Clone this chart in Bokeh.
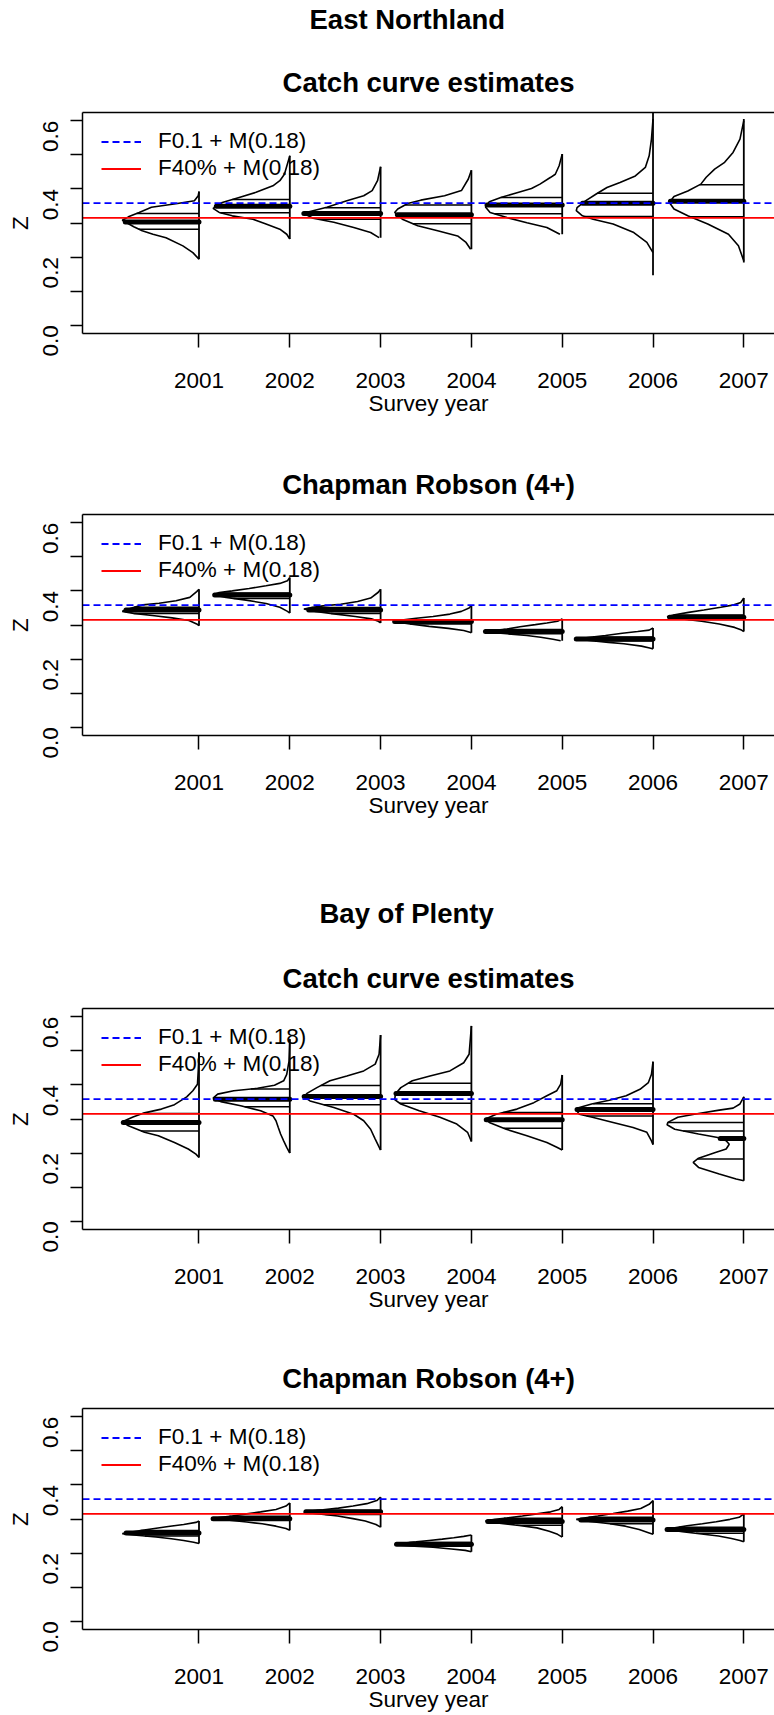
import math
import numpy as np
from bokeh.plotting import figure
from bokeh.layouts import column
from bokeh.models import FixedTicker, LinearAxis, Range1d, Title, Legend, LegendItem
from bokeh.embed import file_html
from bokeh.resources import INLINE

# ---------------------------------------------------------------- data
YEARS = [2001, 2002, 2003, 2004, 2005, 2006, 2007]
Y_TICKS = [0.0, 0.1, 0.2, 0.3, 0.4, 0.5, 0.6]
Y_TICK_LABELS = ["0.0", "", "0.2", "", "0.4", "", "0.6"]

F01_PLUS_M = 0.358   # F0.1 + M(0.18)
F40_PLUS_M = 0.315   # F40% + M(0.18)
LEGEND_LABELS = ["F0.1 + M(0.18)", "F40% + M(0.18)"]

REGIONS = ["East Northland", "Bay of Plenty"]
METHODS = ["Catch curve estimates", "Chapman Robson (4+)"]

# Posterior density outlines per survey year: Z levels and relative width (1 = widest)
EN_CC_Z = [
    [0.392, 0.380, 0.365, 0.357, 0.346, 0.331, 0.318, 0.308, 0.289, 0.277, 0.267, 0.257, 0.233, 0.213, 0.194],
    [0.497, 0.443, 0.424, 0.409, 0.390, 0.375, 0.360, 0.343, 0.331, 0.321, 0.311, 0.297, 0.282, 0.267, 0.253],
    [0.465, 0.424, 0.395, 0.380, 0.365, 0.346, 0.334, 0.328, 0.314, 0.302, 0.287, 0.272, 0.257],
    [0.455, 0.429, 0.395, 0.380, 0.367, 0.357, 0.341, 0.331, 0.311, 0.292, 0.277, 0.262, 0.243, 0.223],
    [0.502, 0.468, 0.443, 0.434, 0.414, 0.401, 0.388, 0.375, 0.362, 0.347, 0.331, 0.316, 0.301, 0.287, 0.267],
    [0.605, 0.546, 0.497, 0.463, 0.438, 0.419, 0.404, 0.385, 0.365, 0.345, 0.336, 0.321, 0.311, 0.297, 0.272, 0.243, 0.213],
    [0.600, 0.546, 0.507, 0.478, 0.458, 0.434, 0.414, 0.394, 0.378, 0.360, 0.341, 0.321, 0.297, 0.267, 0.233, 0.189],
]
EN_CC_W = [
    [0.00, 0.01, 0.06, 0.28, 0.62, 0.78, 0.92, 1.00, 0.85, 0.74, 0.60, 0.43, 0.21, 0.08, 0.00],
    [0.00, 0.07, 0.13, 0.22, 0.44, 0.66, 0.88, 1.00, 0.92, 0.75, 0.48, 0.31, 0.13, 0.04, 0.00],
    [0.00, 0.04, 0.11, 0.22, 0.44, 0.70, 0.92, 1.00, 0.88, 0.61, 0.35, 0.13, 0.02],
    [0.00, 0.04, 0.13, 0.35, 0.66, 0.83, 0.96, 1.00, 0.90, 0.70, 0.44, 0.18, 0.07, 0.01],
    [0.00, 0.04, 0.09, 0.15, 0.29, 0.40, 0.60, 0.80, 0.95, 1.00, 0.94, 0.72, 0.46, 0.20, 0.03],
    [0.00, 0.02, 0.05, 0.10, 0.23, 0.43, 0.60, 0.74, 0.88, 0.99, 1.00, 0.92, 0.78, 0.52, 0.25, 0.08, 0.00],
    [0.00, 0.05, 0.14, 0.25, 0.38, 0.49, 0.56, 0.73, 0.91, 0.97, 0.91, 0.73, 0.47, 0.20, 0.07, 0.00],
]
EN_CC_MEDIAN = [0.303, 0.349, 0.328, 0.324, 0.353, 0.358, 0.364]
EN_CC_QUARTILES = [[0.328, 0.282], [0.369, 0.330], [0.345, 0.311], [0.353, 0.298],
                   [0.375, 0.327], [0.387, 0.319], [0.412, 0.318]]
EN_CC_STEM_LO = [0.194, 0.253, 0.257, 0.223, 0.267, 0.147, 0.184]
EN_CC_STEM_HI = [0.392, 0.497, 0.465, 0.455, 0.502, 0.630, 0.605]

EN_CR_Z = [
    [0.405, 0.398, 0.381, 0.371, 0.364, 0.359, 0.350, 0.340, 0.334, 0.327, 0.321, 0.313, 0.303, 0.298],
    [0.439, 0.430, 0.422, 0.415, 0.407, 0.400, 0.395, 0.389, 0.381, 0.373, 0.363, 0.352, 0.340, 0.335],
    [0.405, 0.396, 0.379, 0.369, 0.361, 0.356, 0.351, 0.347, 0.340, 0.332, 0.325, 0.318, 0.311, 0.306],
    [0.357, 0.350, 0.340, 0.332, 0.325, 0.320, 0.315, 0.310, 0.303, 0.296, 0.290, 0.284, 0.279, 0.277],
    [0.318, 0.311, 0.306, 0.301, 0.295, 0.288, 0.284, 0.281, 0.276, 0.269, 0.264, 0.258, 0.254],
    [0.291, 0.285, 0.281, 0.276, 0.269, 0.264, 0.259, 0.254, 0.249, 0.245, 0.238, 0.232, 0.230],
    [0.379, 0.366, 0.359, 0.352, 0.344, 0.337, 0.330, 0.324, 0.318, 0.311, 0.303, 0.293, 0.285, 0.281],
]
EN_CR_W = [
    [0.00, 0.03, 0.12, 0.30, 0.52, 0.73, 0.88, 1.00, 0.85, 0.58, 0.35, 0.13, 0.03, 0.00],
    [0.00, 0.03, 0.13, 0.31, 0.53, 0.75, 0.92, 1.00, 0.83, 0.57, 0.31, 0.13, 0.03, 0.00],
    [0.00, 0.03, 0.13, 0.30, 0.52, 0.75, 0.90, 1.00, 0.85, 0.58, 0.33, 0.12, 0.03, 0.00],
    [0.00, 0.03, 0.13, 0.28, 0.50, 0.72, 0.88, 1.00, 0.80, 0.55, 0.30, 0.10, 0.02, 0.00],
    [0.00, 0.06, 0.20, 0.35, 0.55, 0.72, 0.90, 1.00, 0.80, 0.46, 0.28, 0.12, 0.02],
    [0.00, 0.05, 0.20, 0.40, 0.62, 0.82, 1.00, 0.80, 0.58, 0.38, 0.15, 0.03, 0.00],
    [0.00, 0.04, 0.13, 0.30, 0.52, 0.72, 0.90, 1.00, 0.80, 0.55, 0.32, 0.12, 0.03, 0.00],
]
EN_CR_MEDIAN = [0.344, 0.388, 0.344, 0.310, 0.281, 0.259, 0.323]
EN_CR_QUARTILES = [[0.352, 0.334], [0.394, 0.378], [0.351, 0.334], [0.315, 0.303],
                   [0.287, 0.274], [0.265, 0.253], [0.329, 0.316]]

BP_CC_Z = [
    [0.495, 0.441, 0.402, 0.383, 0.365, 0.342, 0.329, 0.318, 0.306, 0.292, 0.280, 0.261, 0.251, 0.231, 0.212, 0.197, 0.187],
    [0.534, 0.470, 0.431, 0.412, 0.399, 0.390, 0.383, 0.373, 0.361, 0.351, 0.339, 0.324, 0.309, 0.295, 0.275, 0.256, 0.236, 0.217, 0.200],
    [0.546, 0.490, 0.461, 0.441, 0.426, 0.412, 0.392, 0.375, 0.365, 0.353, 0.334, 0.314, 0.295, 0.270, 0.241, 0.209],
    [0.573, 0.490, 0.465, 0.441, 0.426, 0.412, 0.392, 0.373, 0.357, 0.344, 0.324, 0.305, 0.285, 0.261, 0.234],
    [0.429, 0.402, 0.383, 0.368, 0.348, 0.329, 0.314, 0.300, 0.290, 0.270, 0.251, 0.231, 0.217, 0.209],
    [0.468, 0.431, 0.407, 0.387, 0.368, 0.355, 0.344, 0.334, 0.326, 0.314, 0.305, 0.290, 0.275, 0.261, 0.236, 0.225],
    [0.365, 0.344, 0.332, 0.326, 0.316, 0.305, 0.290, 0.283, 0.270, 0.256, 0.246, 0.236, 0.226, 0.212, 0.202, 0.185, 0.173, 0.158, 0.139, 0.124, 0.119],
]
BP_CC_W = [
    [0.00, 0.01, 0.02, 0.08, 0.16, 0.32, 0.49, 0.71, 0.86, 1.00, 0.92, 0.71, 0.53, 0.32, 0.14, 0.04, 0.00],
    [0.00, 0.01, 0.04, 0.08, 0.20, 0.42, 0.73, 0.94, 1.00, 0.90, 0.64, 0.38, 0.22, 0.18, 0.15, 0.12, 0.08, 0.04, 0.00],
    [0.00, 0.02, 0.07, 0.22, 0.44, 0.66, 0.83, 0.96, 1.00, 0.92, 0.61, 0.35, 0.22, 0.13, 0.07, 0.00],
    [0.00, 0.03, 0.10, 0.28, 0.54, 0.77, 0.92, 0.99, 1.00, 0.92, 0.68, 0.41, 0.19, 0.05, 0.00],
    [0.00, 0.02, 0.07, 0.20, 0.37, 0.59, 0.86, 1.00, 0.95, 0.73, 0.46, 0.20, 0.07, 0.00],
    [0.00, 0.02, 0.06, 0.17, 0.35, 0.57, 0.80, 0.96, 1.00, 0.96, 0.79, 0.52, 0.26, 0.08, 0.02, 0.00],
    [0.00, 0.05, 0.14, 0.32, 0.59, 0.86, 0.99, 1.00, 0.90, 0.59, 0.34, 0.23, 0.19, 0.23, 0.37, 0.59, 0.66, 0.59, 0.32, 0.10, 0.00],
]
BP_CC_MEDIAN = [0.290, 0.358, 0.366, 0.375, 0.298, 0.328, 0.243]
BP_CC_QUARTILES = [[0.316, 0.265], [0.388, 0.336], [0.398, 0.342], [0.405, 0.346],
                   [0.319, 0.273], [0.345, 0.309], [0.290, 0.265, 0.183]]

BP_CR_Z = [
    [0.294, 0.290, 0.284, 0.278, 0.272, 0.266, 0.261, 0.257, 0.253, 0.247, 0.242, 0.237, 0.232, 0.228],
    [0.347, 0.338, 0.328, 0.321, 0.315, 0.309, 0.305, 0.301, 0.297, 0.291, 0.286, 0.279, 0.272, 0.267],
    [0.364, 0.354, 0.345, 0.338, 0.332, 0.327, 0.323, 0.320, 0.315, 0.309, 0.301, 0.294, 0.284, 0.276],
    [0.253, 0.249, 0.245, 0.241, 0.237, 0.233, 0.229, 0.225, 0.221, 0.217, 0.212, 0.208, 0.204],
    [0.336, 0.328, 0.321, 0.315, 0.309, 0.303, 0.299, 0.294, 0.288, 0.281, 0.274, 0.264, 0.255, 0.247],
    [0.354, 0.343, 0.331, 0.323, 0.316, 0.309, 0.303, 0.299, 0.293, 0.286, 0.279, 0.269, 0.259, 0.255],
    [0.315, 0.305, 0.299, 0.292, 0.286, 0.280, 0.274, 0.269, 0.263, 0.256, 0.250, 0.243, 0.237, 0.233],
]
BP_CR_W = [
    [0.00, 0.04, 0.20, 0.40, 0.58, 0.76, 0.90, 1.00, 0.85, 0.56, 0.36, 0.20, 0.07, 0.00],
    [0.00, 0.05, 0.18, 0.38, 0.56, 0.75, 0.90, 1.00, 0.82, 0.56, 0.36, 0.18, 0.05, 0.00],
    [0.00, 0.05, 0.18, 0.36, 0.55, 0.75, 0.92, 1.00, 0.80, 0.56, 0.36, 0.20, 0.06, 0.00],
    [0.00, 0.10, 0.23, 0.38, 0.55, 0.72, 0.90, 1.00, 0.80, 0.50, 0.26, 0.08, 0.00],
    [0.00, 0.04, 0.15, 0.33, 0.52, 0.72, 0.88, 1.00, 0.82, 0.56, 0.33, 0.17, 0.06, 0.00],
    [0.00, 0.05, 0.16, 0.33, 0.52, 0.72, 0.90, 1.00, 0.82, 0.56, 0.36, 0.18, 0.05, 0.00],
    [0.00, 0.06, 0.18, 0.36, 0.54, 0.74, 0.90, 1.00, 0.80, 0.55, 0.33, 0.16, 0.05, 0.00],
]
BP_CR_MEDIAN = [0.259, 0.301, 0.321, 0.226, 0.293, 0.297, 0.269]
BP_CR_QUARTILES = [[0.266, 0.250], [0.308, 0.296], [0.325, 0.313], [0.231, 0.220],
                   [0.302, 0.282], [0.305, 0.286], [0.276, 0.258]]

# ---------------------------------------------------------------- styling
FONT = "Liberation Sans"
BASE_PX = "22.5px"
TITLE_PX = "27.5px"
X_RANGE = (1999.717, 2007.338)
Y_RANGE = (-0.024, 0.624)
HALF_WIDTH = 0.845          # widest point of each density, in years
FRAME_LEFT = 82
PAGE_W = 774


def title_strip(text, height, offset):
    """A thin strip that only carries a region heading."""
    p = figure(width=PAGE_W, height=height, title=None,
               x_range=Range1d(*X_RANGE), y_range=Range1d(*Y_RANGE),
               x_axis_type=None, y_axis_type=None,
               min_border_left=FRAME_LEFT, min_border_right=0,
               min_border_top=height - 1, min_border_bottom=0,
               output_backend="svg", toolbar_location=None)
    p.outline_line_color = None
    p.border_fill_color = "white"
    p.add_layout(Title(text=text, align="left", offset=offset, text_font=FONT,
                       text_font_size=TITLE_PX, text_font_style="bold",
                       text_color="black", standoff=12), "above")
    return p


def density_panel(zs, ws, medians, quartiles, method, height, top, bottom,
                  stem_lo=None, stem_hi=None):
    p = figure(width=PAGE_W, height=height, title=None,
               x_range=Range1d(*X_RANGE), y_range=Range1d(*Y_RANGE),
               x_axis_type=None, y_axis_type=None,
               min_border_left=FRAME_LEFT, min_border_right=0,
               min_border_top=top, min_border_bottom=bottom,
               output_backend="svg", toolbar_location=None)
    p.outline_line_color = None
    p.background_fill_color = "white"
    p.border_fill_color = "white"

    curve_xs, curve_ys = [], []
    s_x, s_lo, s_hi = [], [], []
    q_x0, q_x1, q_y = [], [], []
    m_x0, m_x1, m_y = [], [], []
    for i, yr in enumerate(YEARS):
        z = np.asarray(zs[i], dtype=float)
        w = np.asarray(ws[i], dtype=float)
        curve_xs.append(list(yr - HALF_WIDTH * w))
        curve_ys.append(list(z))
        order = np.argsort(z)
        zs_sorted, ws_sorted = z[order], w[order]
        s_x.append(yr)
        s_lo.append(stem_lo[i] if stem_lo else float(z.min()))
        s_hi.append(stem_hi[i] if stem_hi else float(z.max()))
        for q in quartiles[i]:
            q_x0.append(yr - HALF_WIDTH * float(np.interp(q, zs_sorted, ws_sorted)))
            q_x1.append(yr)
            q_y.append(q)
        m = medians[i]
        m_x0.append(yr - HALF_WIDTH * float(np.interp(m, zs_sorted, ws_sorted)))
        m_x1.append(yr)
        m_y.append(m)

    p.multi_line(xs=curve_xs, ys=curve_ys, line_color="black", line_width=1.6)
    p.segment(x0=s_x, y0=s_lo, x1=s_x, y1=s_hi, line_color="black", line_width=1.8)
    p.segment(x0=q_x0, y0=q_y, x1=q_x1, y1=q_y, line_color="black", line_width=1.5)
    p.segment(x0=m_x0, y0=m_y, x1=m_x1, y1=m_y, line_color="black", line_width=5,
              line_cap="round")

    # reference mortality levels, across the whole panel
    ref_blue = p.line(x=list(X_RANGE), y=[F01_PLUS_M, F01_PLUS_M], line_color="blue",
                      line_dash="7 4", line_width=1.8)
    ref_red = p.line(x=list(X_RANGE), y=[F40_PLUS_M, F40_PLUS_M], line_color="red",
                     line_width=1.8)
    legend = Legend(items=[LegendItem(label=LEGEND_LABELS[0], renderers=[ref_blue]),
                           LegendItem(label=LEGEND_LABELS[1], renderers=[ref_red])],
                    location=(19, 151.5), orientation="vertical",
                    border_line_color=None, background_fill_alpha=0,
                    padding=0, spacing=0, margin=0,
                    glyph_width=40, glyph_height=27, label_height=27, label_standoff=17,
                    label_text_font=FONT, label_text_font_size=BASE_PX,
                    label_text_color="black", label_text_baseline="middle")
    p.add_layout(legend, "center")

    # axes
    xax = LinearAxis(ticker=FixedTicker(ticks=YEARS, minor_ticks=[]),
                     axis_label="Survey year")
    yax = LinearAxis(ticker=FixedTicker(ticks=Y_TICKS, minor_ticks=[]), axis_label="Z",
                     major_label_overrides={t: s for t, s in zip(Y_TICKS, Y_TICK_LABELS)},
                     major_label_orientation=math.pi / 2)
    for ax in (xax, yax):
        ax.axis_line_width = 1.5
        ax.major_tick_line_width = 1.5
        ax.major_tick_in = 0
        ax.minor_tick_line_color = None
        ax.major_label_text_font = FONT
        ax.major_label_text_font_size = BASE_PX
        ax.major_label_text_color = "black"
        ax.axis_label_text_font = FONT
        ax.axis_label_text_font_size = BASE_PX
        ax.axis_label_text_font_style = "normal"
        ax.axis_label_text_color = "black"
    xax.major_tick_out = 14
    xax.major_label_standoff = 25
    xax.axis_label_standoff = 0
    yax.major_tick_out = 12
    yax.major_label_standoff = 20
    yax.axis_label_standoff = 0
    p.add_layout(xax, "below")
    p.add_layout(yax, "left")

    # top edge of the box
    top_ax = LinearAxis(ticker=FixedTicker(ticks=[], minor_ticks=[]),
                        axis_line_width=1.5, major_tick_out=0, major_tick_in=0,
                        minor_tick_out=0, major_label_standoff=0,
                        major_label_text_font_size="0px")
    p.add_layout(top_ax, "above")

    p.add_layout(Title(text=method, align="center", text_font=FONT,
                       text_font_size=TITLE_PX, text_font_style="bold",
                       text_color="black", standoff=30), "above")
    return p


h1 = title_strip(REGIONS[0], height=40, offset=227)
p1 = density_panel(EN_CC_Z, EN_CC_W, EN_CC_MEDIAN, EN_CC_QUARTILES, METHODS[0],
                   height=390, top=72, bottom=97,
                   stem_lo=EN_CC_STEM_LO, stem_hi=EN_CC_STEM_HI)
p2 = density_panel(EN_CR_Z, EN_CR_W, EN_CR_MEDIAN, EN_CR_QUARTILES, METHODS[1],
                   height=430, top=84, bottom=125)
h3 = title_strip(REGIONS[1], height=75, offset=237)
p3 = density_panel(BP_CC_Z, BP_CC_W, BP_CC_MEDIAN, BP_CC_QUARTILES, METHODS[0],
                   height=385, top=73, bottom=91)
p4 = density_panel(BP_CR_Z, BP_CR_W, BP_CR_MEDIAN, BP_CR_QUARTILES, METHODS[1],
                   height=395, top=88, bottom=86)

page = column(h1, p1, p2, h3, p3, p4, spacing=0)
open("out.html", "w").write(file_html(page, INLINE))
